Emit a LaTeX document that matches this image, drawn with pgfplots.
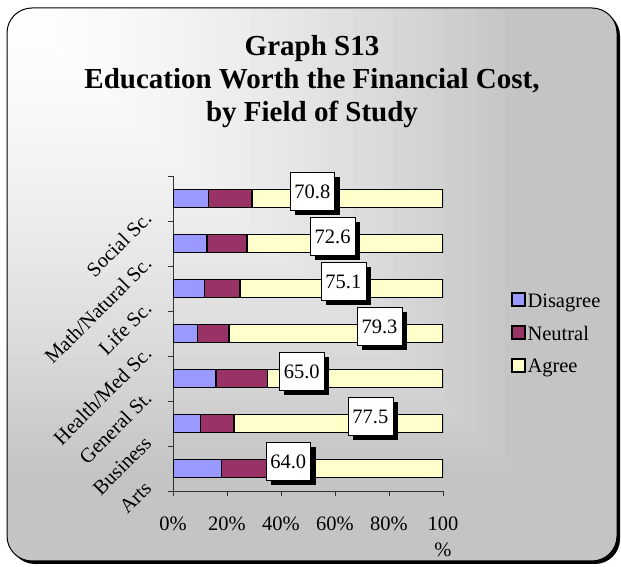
\documentclass[border=0pt]{standalone}
\usepackage{fontspec}
\setmainfont{Liberation Serif}
\usepackage{pgfplots}
\pgfplotsset{compat=1.18}
\usetikzlibrary{shadows}
\definecolor{bggray}{HTML}{C4C4C4}
\definecolor{cdis}{HTML}{9999FF}
\definecolor{cneu}{HTML}{993366}
\definecolor{cagr}{HTML}{FFFFCC}
\newcommand{\lblfont}{\fontsize{20.5}{26}\selectfont}

\begin{document}
\begin{tikzpicture}[x=1pt,y=1pt]
\useasboundingbox (0,0) rectangle (621,567);
% panel with shadow and corner gradient
\fill[black, rounded corners=25pt] (10,3) rectangle (620,556);
\begin{scope}
  \clip[rounded corners=25pt] (7,6) rectangle (617,559);
  \foreach \k in {60,59,...,1}{
    \pgfmathsetmacro{\s}{\k/60}
    \pgfmathtruncatemacro{\f}{100*max(0,1-(\s/0.85)^1.5)}
    \fill[white!\f!bggray] (7,559) rectangle ({7+\s*610},{559-\s*553});
  }
\end{scope}
\draw[black, line width=1pt, rounded corners=25pt] (7,6) rectangle (617,559);

\node[font=\bfseries\fontsize{29}{33}\selectfont, align=center, anchor=north, inner sep=0pt]
  at (312,532) {Graph S13\\Education Worth the Financial Cost,\\by Field of Study};

\begin{axis}[
  at={(173pt,76pt)}, anchor=south west,
  scale only axis, width=270pt, height=315pt,
  xbar stacked, bar width=18pt,
  xmin=0, xmax=100, ymin=-0.5, ymax=6.5,
  axis lines*=left,
  axis line style={black!80, line width=0.9pt},
  tick align=outside, major tick length=5pt,
  tick style={black!80, line width=0.9pt},
  xtick={0,20,40,60,80,100},
  xticklabels={0\%,20\%,40\%,60\%,80\%,100\\\%},
  xticklabel style={align=center, font=\lblfont, yshift=-17pt},
  ytick={-0.5,0.5,1.5,2.5,3.5,4.5,5.5,6.5},
  yticklabels={Arts,Business,General St.,Health/Med Sc.,Life Sc.,Math/Natural Sc.,Social Sc.,{}},
  yticklabel style={font=\lblfont, inner sep=0pt, xshift=-20pt, yshift=6pt, rotate=45, anchor=east},
  legend style={at={(1.24,0.64)}, anchor=north west, draw=none, fill=none,
    font=\lblfont, row sep=13.5pt, legend cell align=left,
    /tikz/every even column/.append style={column sep=3pt}},
  legend image code/.code={\draw[#1, draw=black, line width=1.5pt] (0pt,-5pt) rectangle (13pt,8pt);},
]
\addplot[fill=cdis, draw=black, line width=1.5pt] coordinates {
  (17.9,0) (10.1,1) (15.9,2) (9.1,3) (11.7,4) (12.6,5) (13.2,6)};
\addlegendentry{Disagree}
\addplot[fill=cneu, draw=black, line width=1.5pt] coordinates {
  (18.1,0) (12.4,1) (19.1,2) (11.6,3) (13.2,4) (14.8,5) (16.0,6)};
\addlegendentry{Neutral}
\addplot[fill=cagr, draw=black, line width=1.5pt] coordinates {
  (64.0,0) (77.5,1) (65.0,2) (79.3,3) (75.1,4) (72.6,5) (70.8,6)};
\addlegendentry{Agree}
\end{axis}

% data labels
\begin{axis}[
  at={(173pt,76pt)}, anchor=south west,
  scale only axis, width=270pt, height=315pt,
  xmin=0, xmax=100, ymin=-0.5, ymax=6.5,
  hide axis, clip=false,
]
\addplot[draw=none, mark=none, nodes near coords, point meta=explicit symbolic,
  nodes near coords align={center},
  every node near coord/.style={fill=white, draw=black, line width=0.6pt,
    font=\lblfont, text height=14pt, text depth=0pt, inner xsep=4.5pt, inner ysep=12pt,
    yshift=7pt, drop shadow={shadow xshift=5pt, shadow yshift=-5pt, opacity=1, fill=black}}]
  coordinates {
  (42.7,0) [64.0]
  (73.1,1) [77.5]
  (47.7,2) [65.0]
  (76.5,3) [79.3]
  (63.1,4) [75.1]
  (59.1,5) [72.6]
  (51.6,6) [70.8]
};
\end{axis}
\end{tikzpicture}
\end{document}
